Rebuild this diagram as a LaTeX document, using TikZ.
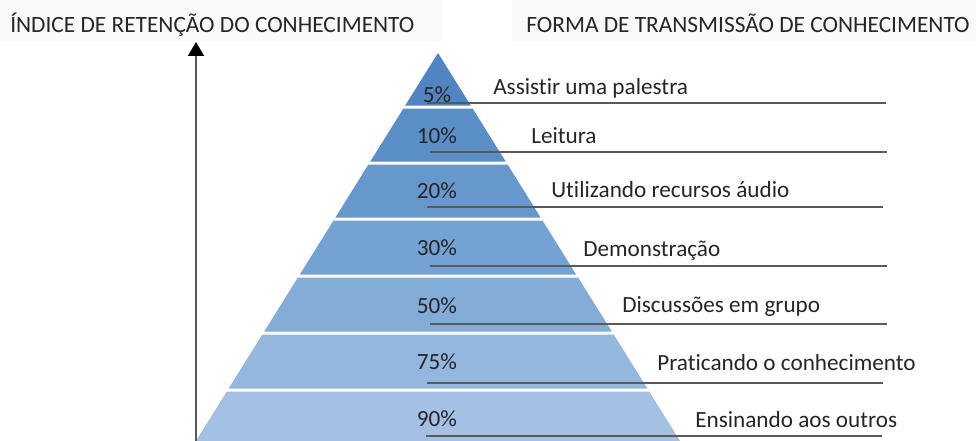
\documentclass[tikz,border=0pt]{standalone}
\usepackage{fontspec}
\setmainfont{Carlito}[Ligatures=NoCommon]
\usepackage{xcolor}
\usetikzlibrary{arrows.meta}

\definecolor{bandA}{RGB}{80,133,193}
\definecolor{bandB}{RGB}{90,142,198}
\definecolor{bandC}{RGB}{103,152,204}
\definecolor{bandD}{RGB}{116,162,210}
\definecolor{bandE}{RGB}{131,172,215}
\definecolor{bandF}{RGB}{148,183,221}
\definecolor{bandG}{RGB}{164,193,228}
\definecolor{headbg}{RGB}{250,250,250}
\definecolor{rule}{RGB}{90,90,90}

\begin{document}
\begin{tikzpicture}[x=0.025cm, y=-0.025cm,
    txt/.style={font=\fontsize{16.5}{19}\selectfont, text=black!85, inner sep=0pt},
    head/.style={font=\fontsize{16.6}{19}\selectfont, text=black!85, inner sep=0pt},
    under/.style={draw=rule, line width=1pt}]
  \useasboundingbox (0,0) rectangle (976,441);

  % header boxes
  \fill[headbg] (0,0) rectangle (443,42);
  \fill[headbg] (512,0) rectangle (976,42);
  \node[head, anchor=base west] (Indice) at (10,32) {ÍNDICE DE RETENÇÃO DO CONHECIMENTO};
  \node[head, anchor=base east] (Forma) at (970,32) {FORMA DE TRANSMISSÃO DE CONHECIMENTO};

  % the pyramid, top to bottom
  \fill[bandA] (438,53) -- (470.8,105.5) -- (405.2,105.5) -- cycle;
  \fill[bandB] (403.4,108.5) -- (472.6,108.5) -- (505.7,161.5) -- (370.3,161.5) -- cycle;
  \fill[bandC] (368.4,164.5) -- (507.6,164.5) -- (540.6,217.5) -- (335.4,217.5) -- cycle;
  \fill[bandD] (333.5,220.5) -- (542.5,220.5) -- (576.2,274.5) -- (299.8,274.5) -- cycle;
  \fill[bandE] (297.9,277.5) -- (578.1,277.5) -- (611.8,331.5) -- (264.2,331.5) -- cycle;
  \fill[bandF] (262.3,334.5) -- (613.7,334.5) -- (647.4,388.5) -- (228.6,388.5) -- cycle;
  \fill[bandG] (226.8,391.5) -- (649.2,391.5) -- (680.1,441) -- (195.9,441) -- cycle;

  % retention axis
  \coordinate (AxisLow) at (196,441);
  \coordinate (AxisTop) at (196,42);
  \draw[draw=black!65, line width=1.2pt, -{Triangle[length=14pt*0.709, width=16pt*0.709, color=black]}] (AxisLow) -- (AxisTop);

  % percentages
  \node[txt, anchor=base] (P5) at (437,102) {5\%};
  \node[txt, anchor=base] (P10) at (437,143) {10\%};
  \node[txt, anchor=base] (P20) at (437,198) {20\%};
  \node[txt, anchor=base] (P30) at (437,255) {30\%};
  \node[txt, anchor=base] (P50) at (437,313) {50\%};
  \node[txt, anchor=base] (P75) at (437,369) {75\%};
  \node[txt, anchor=base] (P90) at (437,426) {90\%};

  % ways of passing on knowledge
  \node[txt, anchor=base west] (Palestra) at (493,94) {Assistir uma palestra};
  \node[txt, anchor=base west] (Leitura) at (531,143) {Leitura};
  \node[txt, anchor=base west] (Audio) at (551,197) {Utilizando recursos áudio};
  \node[txt, anchor=base west] (Demo) at (583,256) {Demonstração};
  \node[txt, anchor=base west] (Grupo) at (622,312) {Discussões em grupo};
  \node[txt, anchor=base west] (Pratica) at (657,370) {Praticando o conhecimento};
  \node[txt, anchor=base west] (Ensino) at (695,427) {Ensinando aos outros};

  % underlines
  \draw[under] (427,103) -- (886,103);
  \draw[under] (430,152) -- (887,152);
  \draw[under] (427,207) -- (883,207);
  \draw[under] (430,266) -- (887,266);
  \draw[under] (430,324) -- (887,324);
  \draw[under] (427,383) -- (883,383);
  \draw[under] (426,436) -- (882,436);
\end{tikzpicture}
\end{document}
